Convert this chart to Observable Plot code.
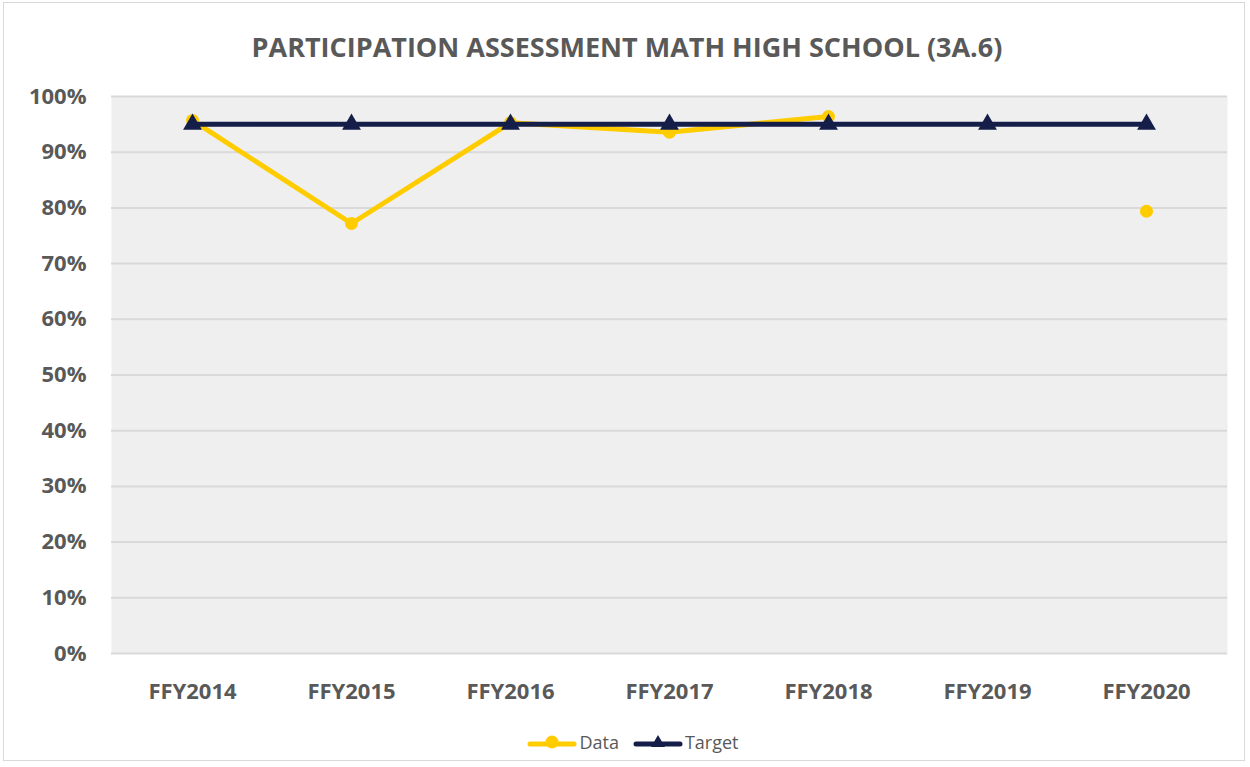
<!DOCTYPE html>
<html>
<head>
<meta charset="utf-8">
<script src="https://cdn.jsdelivr.net/npm/d3@7"></script>
<script src="https://cdn.jsdelivr.net/npm/@observablehq/plot@0.6"></script>
<style>
  html, body { margin: 0; padding: 0; background: #fff; }
  body { width: 1250px; height: 767px; position: relative; overflow: hidden; font-family: "Open Sans", sans-serif; }
  #frame { position: absolute; left: 3px; top: 2px; width: 1242px; height: 759px; border: 1px solid #d9d9d9; box-sizing: border-box; pointer-events: none; }
  #title { height: 76px; line-height: 94px; text-align: center; font-size: 27px; font-weight: bold; color: #595959; padding-left: 4px; }
  #chart svg { display: block; }
  #legend { height: 51px; display: flex; justify-content: center; align-items: center; gap: 14px; font-size: 18px; color: #595959; padding-left: 16px; }
  .item { display: flex; align-items: center; gap: 2px; }
</style>
</head>
<body>
<div id="frame"></div>
<div id="title">PARTICIPATION ASSESSMENT MATH HIGH SCHOOL (3A.6)</div>
<div id="chart"></div>
<div id="legend"></div>
<script>
const categories = ["FFY2014", "FFY2015", "FFY2016", "FFY2017", "FFY2018", "FFY2019", "FFY2020"];
const dataValues = [0.957, 0.772, 0.953, 0.936, 0.964, null, 0.794];
const targetValues = [0.95, 0.95, 0.95, 0.95, 0.95, 0.95, 0.95];
const yTicks = [0, 0.1, 0.2, 0.3, 0.4, 0.5, 0.6, 0.7, 0.8, 0.9, 1.0];

const dataColor = "#FFCC00";
const targetColor = "#141E48";

const dataRows = categories.map((c, i) => ({cat: c, v: dataValues[i]}));
const targetRows = categories.map((c, i) => ({cat: c, v: targetValues[i]}));

const chart = Plot.plot({
  width: 1250,
  height: 640,
  marginLeft: 111,
  marginRight: 23,
  marginTop: 20,
  marginBottom: 63,
  style: {fontFamily: "Open Sans, sans-serif", background: "transparent"},
  x: {type: "point", domain: categories, padding: 0.5, label: null},
  y: {domain: [0, 1], label: null},
  marks: [
    Plot.frame({fill: "#efefef", stroke: null}),
    Plot.ruleY(yTicks, {stroke: "#d9d9d9", strokeWidth: 2}),
    Plot.axisY({ticks: yTicks, tickFormat: d3.format(".0%"), tickSize: 0, tickPadding: 25,
      fontSize: 22, fontWeight: "bold", fill: "#595959", label: null}),
    Plot.axisX({tickSize: 0, tickPadding: 30, fontSize: 22, fontWeight: "bold", fill: "#595959", label: null}),
    Plot.line(dataRows, {x: "cat", y: "v", stroke: dataColor, strokeWidth: 5, defined: d => d.v != null}),
    Plot.dot(dataRows.filter(d => d.v != null), {x: "cat", y: "v", fill: dataColor, r: 6.5}),
    Plot.line(targetRows, {x: "cat", y: "v", stroke: targetColor, strokeWidth: 5}),
    Plot.dot(targetRows, {x: "cat", y: "v", fill: targetColor, symbol: "triangle", r: 7})
  ]
});
document.getElementById("chart").appendChild(chart);

const legend = document.getElementById("legend");
function item(label, color, sym) {
  const div = document.createElement("div");
  div.className = "item";
  const marker = sym === "circle"
    ? `<circle cx="25" cy="9" r="6.5" fill="${color}"/>`
    : `<path d="M25,2 L32,14 L18,14 Z" fill="${color}"/>`;
  div.innerHTML = `<svg width="50" height="18"><line x1="3" y1="11" x2="47" y2="11" stroke="${color}" stroke-width="5" stroke-linecap="round"/>${marker}</svg><span>${label}</span>`;
  legend.appendChild(div);
}
item("Data", dataColor, "circle");
item("Target", targetColor, "triangle");
</script>
</body>
</html>
